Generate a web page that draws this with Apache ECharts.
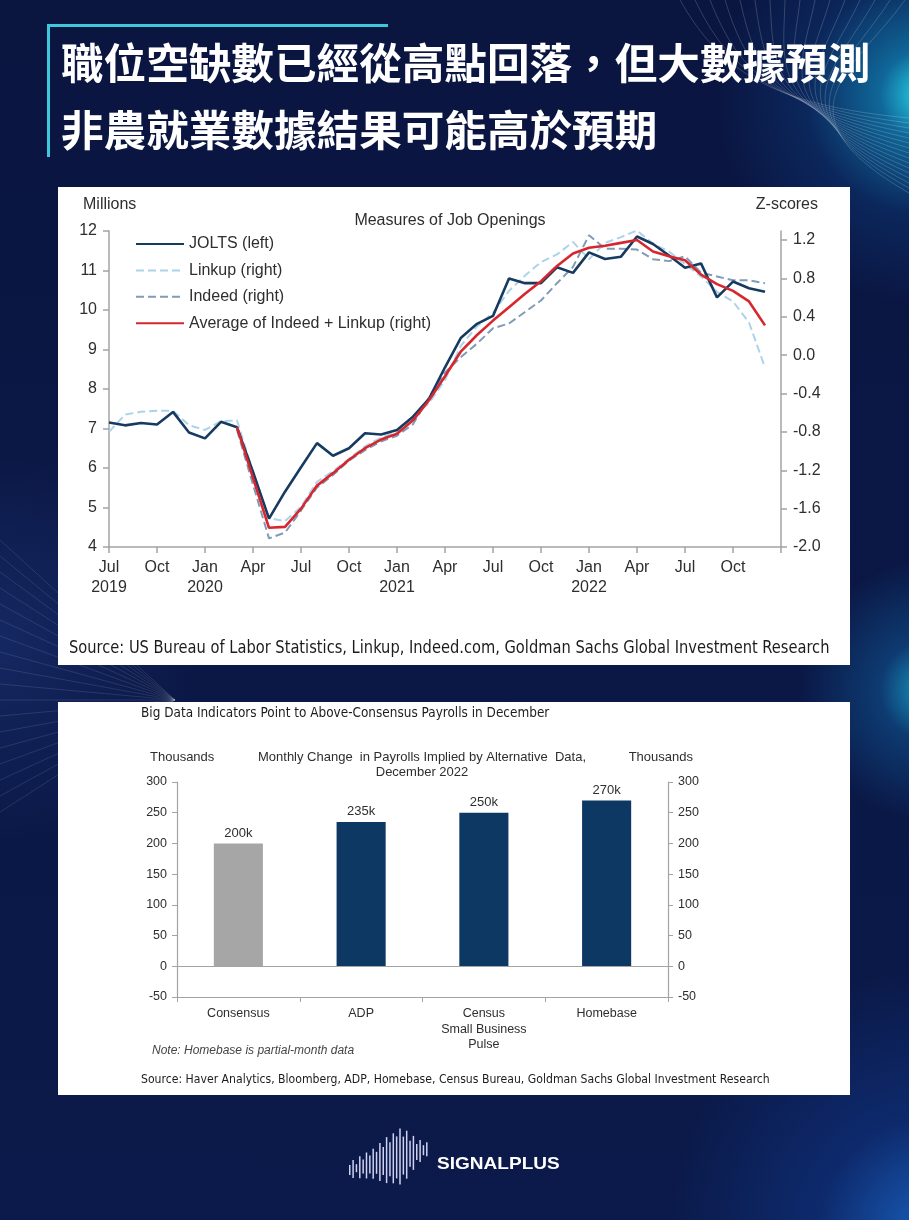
<!DOCTYPE html>
<html><head><meta charset="utf-8">
<script src="https://cdn.jsdelivr.net/npm/echarts/dist/echarts.min.js"></script>
<style>
html,body{margin:0;padding:0;width:909px;height:1220px;overflow:hidden;background:#0b1843;}
#bg{position:absolute;left:0;top:0;width:909px;height:1220px;
background:
 radial-gradient(circle at 925px 95px, rgba(40,225,245,0.95) 0px, rgba(20,170,225,0.55) 45px, rgba(15,90,170,0.25) 120px, rgba(11,24,67,0) 210px),
 radial-gradient(circle at 930px 690px, rgba(30,200,240,0.75) 0px, rgba(20,140,215,0.3) 50px, rgba(11,24,67,0) 130px),
 radial-gradient(circle at 930px 1230px, rgba(30,120,230,0.7) 0px, rgba(20,80,190,0.3) 110px, rgba(11,24,67,0) 260px),
 radial-gradient(circle at 0px 640px, rgba(40,70,150,0.35) 0px, rgba(11,24,67,0) 200px),
 linear-gradient(180deg,#0a1540 0%,#0b1a4a 100%);}
.panel{position:absolute;background:#fff;}
#chart{position:absolute;left:0;top:0;width:909px;height:1220px;}
</style></head><body>
<div id="bg"></div>
<div class="panel" style="left:58px;top:187px;width:792px;height:478px;"></div>
<div class="panel" style="left:58px;top:702px;width:792px;height:393px;"></div>
<div id="chart"></div>
<script>
// ---------- Top chart data ----------
const months = ['Jul 2019','Aug 2019','Sep 2019','Oct 2019','Nov 2019','Dec 2019',
 'Jan 2020','Feb 2020','Mar 2020','Apr 2020','May 2020','Jun 2020','Jul 2020','Aug 2020','Sep 2020','Oct 2020','Nov 2020','Dec 2020',
 'Jan 2021','Feb 2021','Mar 2021','Apr 2021','May 2021','Jun 2021','Jul 2021','Aug 2021','Sep 2021','Oct 2021','Nov 2021','Dec 2021',
 'Jan 2022','Feb 2022','Mar 2022','Apr 2022','May 2022','Jun 2022','Jul 2022','Aug 2022','Sep 2022','Oct 2022','Nov 2022','Dec 2022',
 'Jan 2023'];
const xTickLabels = ['Jul\n2019','Oct','Jan\n2020','Apr','Jul','Oct','Jan\n2021','Apr','Jul','Oct','Jan\n2022','Apr','Jul','Oct',''];
const jolts = [7.15,7.08,7.14,7.10,7.42,6.90,6.75,7.17,7.03,5.90,4.72,5.40,6.02,6.63,6.31,6.50,6.88,6.85,
 6.96,7.30,7.75,8.55,9.30,9.65,9.85,10.80,10.68,10.68,11.08,10.94,11.46,11.29,11.35,11.86,11.67,11.38,11.07,11.18,10.32,10.72,10.55,10.46];
const linkup = [-0.80,-0.62,-0.59,-0.58,-0.58,-0.73,-0.78,-0.69,-0.68,-1.22,-1.70,-1.73,-1.58,-1.32,-1.21,-1.08,-0.95,-0.86,
 -0.80,-0.64,-0.50,-0.26,0.10,0.30,0.44,0.67,0.83,0.97,1.05,1.18,1.00,1.17,1.23,1.30,1.16,1.08,0.95,0.82,0.66,0.56,0.34,-0.13];
const indeed = [null,null,null,null,null,null,null,null,-0.78,-1.35,-1.91,-1.85,-1.62,-1.38,-1.25,-1.10,-0.99,-0.90,
 -0.84,-0.72,-0.44,-0.18,-0.02,0.12,0.28,0.33,0.45,0.57,0.75,0.92,1.25,1.11,1.11,1.10,1.00,0.98,1.03,0.86,0.82,0.78,0.78,0.75];
const average = [null,null,null,null,null,null,null,null,-0.75,-1.28,-1.80,-1.79,-1.60,-1.36,-1.23,-1.09,-0.97,-0.88,
 -0.82,-0.68,-0.47,-0.22,0.04,0.21,0.36,0.50,0.64,0.77,0.93,1.06,1.12,1.14,1.17,1.20,1.08,1.03,0.99,0.84,0.74,0.67,0.56,0.31];
const seriesNames = ['JOLTS (left)','Linkup (right)','Indeed (right)','Average of Indeed + Linkup (right)'];

// ---------- Bottom chart data ----------
const barCategories = ['Consensus','ADP','Census\nSmall Business\nPulse','Homebase'];
const barValues = [200,235,250,270];
const barLabels = ['200k','235k','250k','270k'];
const barColors = ['#a6a6a6','#0d3863','#0d3863','#0d3863'];

const ARIAL = 'Liberation Sans, Arial, sans-serif';
const NARROW = '"DejaVu Sans Condensed", "Liberation Sans Narrow", sans-serif';
const AXC = '#a3a3a3';
const TXT = '#2e2e2e';

const chart = echarts.init(document.getElementById('chart'), null, {renderer:'canvas'});

// decorative background lines
const deco = [];
for (let i = 0; i < 16; i++) {
  deco.push({type:'bezierCurve', silent:true, z:1,
    shape:{x1:680+i*15, y1:0, cpx1:720+i*9, cpy1:70, cpx2:770, cpy2:105+i*0.5, x2:909, y2:118+i*5},
    style:{stroke:'rgba(255,255,255,0.26)', lineWidth:0.7, fill:null}});
}
for (let i = 0; i < 18; i++) {
  deco.push({type:'line', silent:true, z:1,
    shape:{x1:175, y1:700, x2:0, y2:540+i*16},
    style:{stroke:'rgba(255,255,255,0.16)', lineWidth:0.7}});
}
// waveform logo
const waveH = [5,9,4,11,7,13,9,15,11,19,14,23,17,25,21,28,19,24,13,17,8,11,5,7];
const wave = [];
waveH.forEach((h,i)=>{
  const x = 349 + i*3.35;
  const c = 1170 - i*0.9;
  wave.push({type:'rect', silent:true, z:5, shape:{x:x, y:c-h, width:1.5, height:2*h},
    style:{fill:'rgba(225,225,255,0.92)'}});
});

function narrowText(x, y, str, size, sx) {
  return {type:'text', z:6, x:x, y:y, scaleX:sx, scaleY:1,
    style:{x:0, y:0, text:str, fill:'#1c1c1c', font:size+'px '+NARROW, verticalAlign:'middle'}};
}

const texts = [
  // title frame
  {type:'rect', z:5, shape:{x:47,y:24,width:341,height:3}, style:{fill:'#3cc9dc'}},
  {type:'rect', z:5, shape:{x:47,y:24,width:3,height:133}, style:{fill:'#3cc9dc'}},
  {type:'text', z:6, style:{x:61,y:63,text:'職位空缺數已經從高點回落，但大數據預測',fill:'#ffffff',
    font:'bold 42.6px "Noto Sans CJK TC", sans-serif', verticalAlign:'middle'}},
  {type:'text', z:6, style:{x:61,y:130,text:'非農就業數據結果可能高於預期',fill:'#ffffff',
    font:'bold 42.6px "Noto Sans CJK TC", sans-serif', verticalAlign:'middle'}},
  // top chart texts
  {type:'text', z:6, style:{x:83,y:205,text:'Millions',fill:TXT,font:'16px '+ARIAL,verticalAlign:'middle'}},
  {type:'text', z:6, style:{x:818,y:205,text:'Z-scores',fill:TXT,font:'16px '+ARIAL,verticalAlign:'middle',align:'right'}},
  {type:'text', z:6, style:{x:450,y:221,text:'Measures of Job Openings',fill:TXT,font:'16px '+ARIAL,verticalAlign:'middle',align:'center'}},
  narrowText(69, 649, 'Source: US Bureau of Labor Statistics, Linkup, Indeed.com, Goldman Sachs Global Investment Research', 17, 0.958),
  // bottom chart texts
  narrowText(141, 713, 'Big Data Indicators Point to Above-Consensus Payrolls in December', 14, 0.96),
  {type:'text', z:6, style:{x:150,y:757,text:'Thousands',fill:TXT,font:'13px '+ARIAL,verticalAlign:'middle'}},
  {type:'text', z:6, style:{x:693,y:757,text:'Thousands',fill:TXT,font:'13px '+ARIAL,verticalAlign:'middle',align:'right'}},
  {type:'text', z:6, style:{x:422,y:757,text:'Monthly Change  in Payrolls Implied by Alternative  Data,',fill:TXT,font:'13px '+ARIAL,verticalAlign:'middle',align:'center'}},
  {type:'text', z:6, style:{x:422,y:772,text:'December 2022',fill:TXT,font:'13px '+ARIAL,verticalAlign:'middle',align:'center'}},
  {type:'text', z:6, style:{x:152,y:1051,text:'Note: Homebase is partial-month data',fill:'#444',font:'italic 12px '+ARIAL,verticalAlign:'middle'}},
  narrowText(141, 1080, 'Source: Haver Analytics, Bloomberg, ADP, Homebase, Census Bureau, Goldman Sachs Global Investment Research', 13, 0.933),
  // logo text
  {type:'text', z:6, x:437, y:1164, scaleX:1.12, scaleY:1,
    style:{x:0,y:0,text:'SIGNALPLUS',fill:'#ffffff',font:'bold 17px '+ARIAL,verticalAlign:'middle'}}
];

const lineColors = ['#163a60','#acd3ea','#7f9bb6','#d7262e'];
const lineData = [jolts, linkup, indeed, average];
const lineTypes = ['solid','dashed','dashed','solid'];
const lineWidths = [2.6,2,2,2.6];
const lineAxis = [0,1,1,1];

const lineSeries = lineData.map((d,i)=>({
  name: seriesNames[i], type:'line', xAxisIndex:0, yAxisIndex:lineAxis[i],
  data: d, symbol:'none', showSymbol:false, smooth:false, connectNulls:false, silent:true,
  lineStyle:{color:lineColors[i], width:lineWidths[i], type:lineTypes[i]},
  itemStyle:{color:lineColors[i]}, z: i===0?3:(i===3?4:2)
}));

const option = {
  animation:false,
  backgroundColor:'transparent',
  textStyle:{fontFamily:ARIAL},
  graphic:{elements:[...deco, ...wave, ...texts]},
  legend:{
    show:true, orient:'vertical', left:130, top:231, itemWidth:48, itemHeight:14, itemGap:10.4,
    data: seriesNames.map(n=>({name:n})),
    itemStyle:{opacity:0},
    textStyle:{fontSize:16, color:TXT, fontFamily:ARIAL, lineHeight:14},
    selectedMode:false
  },
  grid:[
    {left:109, top:231, width:672, height:316},
    {left:177, top:782, width:491, height:215}
  ],
  xAxis:[
    {type:'category', gridIndex:0, data:months, boundaryGap:false,
     axisLine:{onZero:false, lineStyle:{color:AXC, width:1.5}},
     axisTick:{show:true, interval:(i)=>i%3===0, length:6, lineStyle:{color:AXC, width:1.5}},
     axisLabel:{interval:(i)=>i%3===0, formatter:(v,i)=>xTickLabels[Math.round(i/3)] || '',
       fontSize:16, color:TXT, lineHeight:20, margin:11, fontFamily:ARIAL},
     splitLine:{show:false}},
    {type:'category', gridIndex:1, data:barCategories,
     axisLine:{onZero:false, lineStyle:{color:AXC, width:1.2}},
     axisTick:{show:true, length:5, lineStyle:{color:AXC}},
     axisLabel:{fontSize:12.5, color:TXT, lineHeight:15.5, margin:9, fontFamily:ARIAL, interval:0},
     splitLine:{show:false}}
  ],
  yAxis:[
    {type:'value', gridIndex:0, min:4, max:12, interval:1, position:'left',
     axisLine:{show:true, lineStyle:{color:AXC, width:1.5}},
     axisTick:{show:true, length:6, lineStyle:{color:AXC, width:1.5}},
     axisLabel:{fontSize:16, color:TXT, margin:12, fontFamily:ARIAL},
     splitLine:{show:false}},
    {type:'value', gridIndex:0, min:-2, max:1.294, interval:0.4, position:'right',
     axisLine:{show:true, lineStyle:{color:AXC, width:1.5}},
     axisTick:{show:true, length:6, lineStyle:{color:AXC, width:1.5}},
     axisLabel:{fontSize:16, color:TXT, margin:12, fontFamily:ARIAL, showMaxLabel:false,
       formatter:(v)=> (Math.abs(v)<1e-9?0:v).toFixed(1)},
     splitLine:{show:false}},
    {type:'value', gridIndex:1, min:-50, max:300, interval:50, position:'left',
     axisLine:{show:true, lineStyle:{color:AXC, width:1.2}},
     axisTick:{show:true, length:5, lineStyle:{color:AXC}},
     axisLabel:{fontSize:12.5, color:TXT, margin:10, fontFamily:ARIAL},
     splitLine:{show:false}},
    {type:'value', gridIndex:1, min:-50, max:300, interval:50, position:'right',
     axisLine:{show:true, lineStyle:{color:AXC, width:1.2}},
     axisTick:{show:true, length:5, lineStyle:{color:AXC}},
     axisLabel:{fontSize:12.5, color:TXT, margin:10, fontFamily:ARIAL},
     splitLine:{show:false}}
  ],
  series:[
    ...lineSeries,
    {type:'bar', xAxisIndex:1, yAxisIndex:2, barWidth:'40%', silent:true,
     data: barValues.map((v,i)=>({value:v, itemStyle:{color:barColors[i]}})),
     label:{show:true, position:'top', distance:4, fontSize:13, color:TXT, fontFamily:ARIAL,
       formatter:(p)=>barLabels[p.dataIndex]},
     markLine:{silent:true, symbol:'none', label:{show:false},
       lineStyle:{color:AXC, width:1.2, type:'solid'}, data:[{yAxis:0}]}}
  ]
};
chart.setOption(option);
</script>
</body></html>
